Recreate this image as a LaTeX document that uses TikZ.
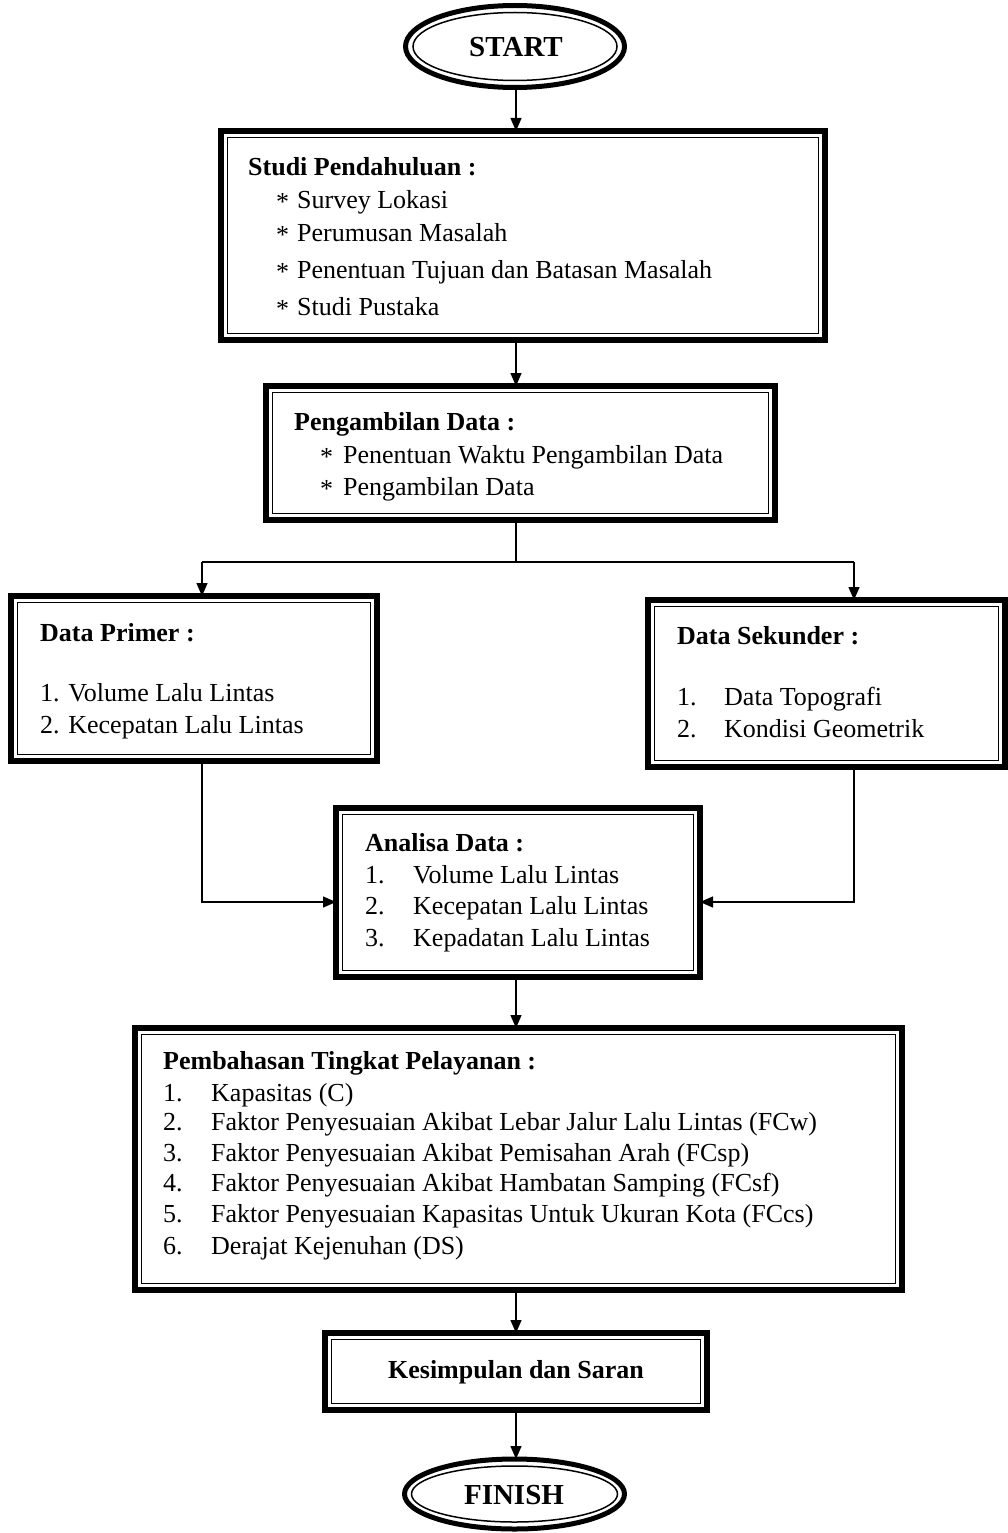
\documentclass[tikz,border=0pt]{standalone}
\usepackage{fontspec}
\setmainfont{Liberation Serif}
\usetikzlibrary{arrows.meta,shapes.geometric}
\newcommand{\bulletstar}{\raisebox{-0.25ex}{*}}
\begin{document}
\begin{tikzpicture}[x=1pt,y=-1pt,
 box/.style={draw, line width=6pt, rectangle, inner sep=0pt, outer sep=0pt},
 innerline/.style={line width=1.5pt},
 oval/.style={draw, ellipse, line width=5pt, inner sep=0pt, outer sep=0pt, font=\fontsize{29}{32}\selectfont\bfseries},
 txt/.style={anchor=base west, inner sep=0pt, font=\fontsize{26}{30}\selectfont},
 btxt/.style={anchor=base west, inner sep=0pt, font=\fontsize{26}{30}\selectfont\bfseries},
 conn/.style={line width=1.4pt},
 arr/.style={conn, -{Triangle[length=13pt,width=11pt]}}
]
\path[use as bounding box] (0,0) rectangle (1008,1533);

% terminals
\node[oval, minimum width=219pt, minimum height=82pt] (start) at (515,46.5) {};
\draw[innerline] (start.center) ellipse [x radius=102, y radius=34];
\node[anchor=center, inner sep=0pt, font=\fontsize{29}{32}\selectfont\bfseries] (starttxt) at (516,47) {START};

\node[oval, minimum width=220pt, minimum height=70pt] (finish) at (514.5,1494) {};
\draw[innerline] (finish.center) ellipse [x radius=103, y radius=28];
\node[anchor=center, inner sep=0pt, font=\fontsize{29}{32}\selectfont\bfseries] (finishtxt) at (514,1495) {FINISH};

% boxes
\node[box, minimum width=604pt, minimum height=209pt] (b1) at (523,235.5) {};
\node[box, minimum width=509pt, minimum height=134pt] (b2) at (520.5,453) {};
\node[box, minimum width=366pt, minimum height=165pt] (prim) at (194,678.5) {};
\node[box, minimum width=357pt, minimum height=167pt] (sek) at (826.5,683.5) {};
\node[box, minimum width=364pt, minimum height=169pt] (ana) at (518,892.5) {};
\node[box, minimum width=767pt, minimum height=262pt] (bah) at (518.5,1159) {};
\node[box, minimum width=382pt, minimum height=77pt] (kes) at (516,1371.5) {};
\foreach \b in {b1,b2,prim,sek,ana,bah,kes}
  \draw[innerline] ([shift={(6.5,6.5)}]\b.north west) rectangle ([shift={(-6.5,-6.5)}]\b.south east);

% texts box 1
\node[btxt] (b1t) at (248,176) {Studi Pendahuluan :};
\node[txt] (b1s1) at (276,208) {\bulletstar}; \node[txt] (b1i1) at (297,208) {Survey Lokasi};
\node[txt] (b1s2) at (276,241) {\bulletstar}; \node[txt] (b1i2) at (297,241) {Perumusan Masalah};
\node[txt] (b1s3) at (276,278) {\bulletstar}; \node[txt] (b1i3) at (297,278) {Penentuan Tujuan dan Batasan Masalah};
\node[txt] (b1s4) at (276,315) {\bulletstar}; \node[txt] (b1i4) at (297,315) {Studi Pustaka};

% box 2
\node[btxt] (b2t) at (294,430) {Pengambilan Data :};
\node[txt] (b2s1) at (320,463) {\bulletstar}; \node[txt] (b2i1) at (343,463) {Penentuan Waktu Pengambilan Data};
\node[txt] (b2s2) at (320,495) {\bulletstar}; \node[txt] (b2i2) at (343,495) {Pengambilan Data};

% primer
\node[btxt] (pt) at (40,641) {Data Primer :};
\node[txt] (pi1) at (40,701) {1. Volume Lalu Lintas};
\node[txt] (pi2) at (40,733) {2. Kecepatan Lalu Lintas};

% sekunder
\node[btxt] (st) at (677,644) {Data Sekunder :};
\node[txt] (sn1) at (677,705) {1.}; \node[txt] (si1) at (724,705) {Data Topografi};
\node[txt] (sn2) at (677,737) {2.}; \node[txt] (si2) at (724,737) {Kondisi Geometrik};

% analisa
\node[btxt] (at) at (365,851) {Analisa Data :};
\node[txt] (an1) at (365,883) {1.}; \node[txt] (ai1) at (413,883) {Volume Lalu Lintas};
\node[txt] (an2) at (365,914) {2.}; \node[txt] (ai2) at (413,914) {Kecepatan Lalu Lintas};
\node[txt] (an3) at (365,946) {3.}; \node[txt] (ai3) at (413,946) {Kepadatan Lalu Lintas};

% pembahasan
\node[btxt] (bt) at (163,1069) {Pembahasan Tingkat Pelayanan :};
\node[txt] (bn1) at (163,1101) {1.}; \node[txt] (bi1) at (211,1101) {Kapasitas (C)};
\node[txt] (bn2) at (163,1130) {2.}; \node[txt] (bi2) at (211,1130) {Faktor Penyesuaian Akibat Lebar Jalur Lalu Lintas (FCw)};
\node[txt] (bn3) at (163,1161) {3.}; \node[txt] (bi3) at (211,1161) {Faktor Penyesuaian Akibat Pemisahan Arah (FCsp)};
\node[txt] (bn4) at (163,1191) {4.}; \node[txt] (bi4) at (211,1191) {Faktor Penyesuaian Akibat Hambatan Samping (FCsf)};
\node[txt] (bn5) at (163,1222) {5.}; \node[txt] (bi5) at (211,1222) {Faktor Penyesuaian Kapasitas Untuk Ukuran Kota (FCcs)};
\node[txt] (bn6) at (163,1254) {6.}; \node[txt] (bi6) at (211,1254) {Derajat Kejenuhan (DS)};

% kesimpulan
\node[anchor=base, inner sep=0pt, font=\fontsize{26}{30}\selectfont\bfseries] (kt) at (516,1378) {Kesimpulan dan Saran};

% connectors
\coordinate (sp) at (516,562);
\coordinate (lp) at (202,562);
\coordinate (rp) at (854,562);
\coordinate (lq) at (202,902);
\coordinate (rq) at (854,902);
\coordinate (ax) at (516,0);

\draw[arr] (ax |- start.south) -- (ax |- b1.north);
\draw[arr] (ax |- b1.south) -- (ax |- b2.north);
\draw[conn] (ax |- b2.south) -- (sp);
\draw[conn] (lp) -- (rp);
\draw[arr] (lp) -- (lp |- prim.north);
\draw[arr] (rp) -- (rp |- sek.north);
\draw[arr] (lp |- prim.south) -- (lq) -- (lq -| ana.west);
\draw[arr] (rq |- sek.south) -- (rq) -- (rq -| ana.east);
\draw[arr] (ax |- ana.south) -- (ax |- bah.north);
\draw[arr] (ax |- bah.south) -- (ax |- kes.north);
\draw[arr] (ax |- kes.south) -- (ax |- finish.north);
\end{tikzpicture}
\end{document}
